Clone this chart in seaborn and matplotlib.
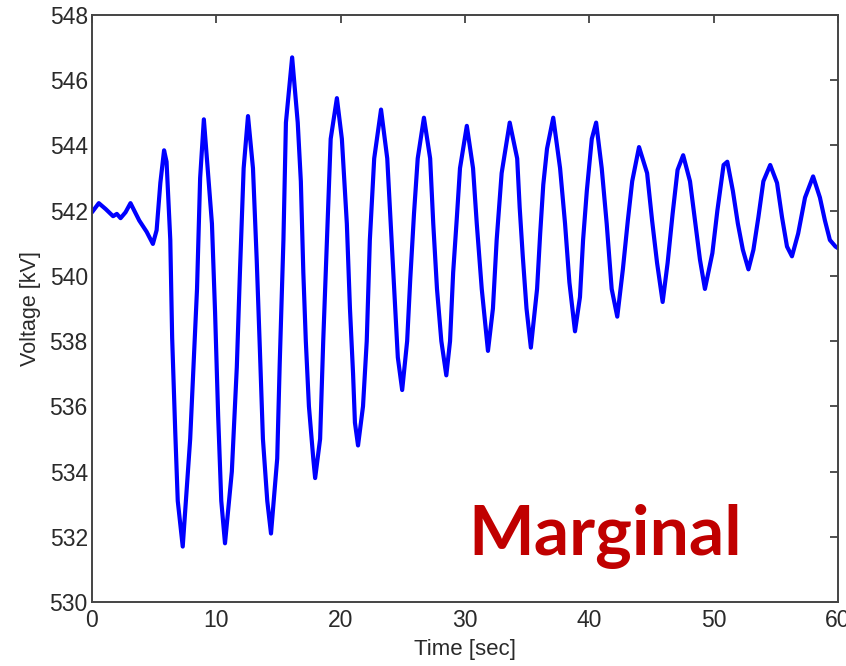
import matplotlib
matplotlib.use("Agg")
import matplotlib.pyplot as plt
import seaborn as sns
import pandas as pd

time_s = [0.0, 0.55, 1.1, 1.7, 2.0, 2.3, 2.7, 3.1, 3.8, 4.4, 4.9, 5.2, 5.5, 5.8, 6.0,
          6.3, 6.45, 6.7, 6.9, 7.3, 7.9, 8.45, 8.7, 9.0, 9.65, 9.9, 10.15, 10.4, 10.7,
          11.25, 11.65, 11.9, 12.2, 12.55, 12.95, 13.25, 13.5, 13.75, 14.1, 14.4, 14.9,
          15.1, 15.4, 15.6, 16.1, 16.55, 16.8, 17.0, 17.2, 17.45, 17.8, 17.95, 18.35,
          18.6, 18.9, 19.2, 19.7, 20.1, 20.5, 20.75, 21.0, 21.15, 21.4, 21.8, 22.1,
          22.35, 22.7, 23.25, 23.75, 24.1, 24.4, 24.6, 24.95, 25.35, 25.6, 25.9, 26.2,
          26.7, 27.2, 27.45, 27.75, 28.1, 28.5, 28.8, 29.05, 29.35, 29.6, 30.15, 30.65,
          30.95, 31.35, 31.85, 32.25, 32.55, 32.95, 33.6, 34.2, 34.4, 34.65, 34.95, 35.3,
          35.8, 36.05, 36.3, 36.6, 37.1, 37.65, 38.05, 38.4, 38.85, 39.25, 39.5, 39.8,
          40.2, 40.55, 41.0, 41.4, 41.8, 42.25, 42.7, 43.1, 43.45, 44.0, 44.65, 45.05,
          45.45, 45.9, 46.3, 46.7, 47.1, 47.55, 48.1, 48.5, 48.9, 49.3, 49.9, 50.3, 50.8,
          51.1, 51.55, 51.95, 52.35, 52.8, 53.2, 53.6, 54.0, 54.55, 55.1, 55.5, 55.9,
          56.3, 56.8, 57.35, 58.0, 58.55, 58.95, 59.35, 59.8, 60.0]
voltage_kv = [541.95, 542.23, 542.05, 541.83, 541.9, 541.77, 541.95, 542.23, 541.7, 541.35,
              540.98, 541.4, 542.85, 543.85, 543.5, 541.1, 538.1, 535.2, 533.1, 531.7,
              535.0, 539.6, 543.0, 544.8, 541.6, 538.9, 535.7, 533.1, 531.8, 534.0, 537.2,
              540.1, 543.3, 544.9, 543.3, 540.5, 537.8, 535.0, 533.1, 532.1, 534.4, 537.3,
              541.1, 544.7, 546.7, 544.7, 542.9, 540.1, 538.0, 536.0, 534.4, 533.8, 535.0,
              538.0, 541.1, 544.2, 545.45, 544.2, 541.6, 539.0, 537.0, 535.5, 534.8, 536.0,
              538.0, 541.1, 543.6, 545.1, 543.6, 541.1, 539.0, 537.5, 536.5, 538.0, 539.9,
              541.9, 543.6, 544.85, 543.6, 541.6, 539.6, 538.0, 536.95, 538.0, 540.1,
              541.8, 543.3, 544.6, 543.3, 541.6, 539.6, 537.7, 539.0, 541.1, 543.15, 544.7,
              543.6, 542.1, 540.6, 539.0, 537.8, 539.6, 541.3, 542.8, 543.9, 544.85, 543.3,
              541.6, 539.8, 538.3, 539.35, 541.1, 542.6, 544.2, 544.7, 543.3, 541.6, 539.6,
              538.75, 540.2, 541.7, 542.9, 543.95, 543.15, 541.7, 540.4, 539.2, 540.4,
              541.9, 543.25, 543.7, 542.9, 541.7, 540.5, 539.6, 540.7, 542.0, 543.4, 543.5,
              542.6, 541.6, 540.8, 540.2, 540.8, 541.8, 542.9, 543.4, 542.85, 541.8, 540.9,
              540.6, 541.3, 542.4, 543.05, 542.4, 541.7, 541.1, 540.9, 540.85]

x_ticks = [0, 10, 20, 30, 40, 50, 60]
y_ticks = [530, 532, 534, 536, 538, 540, 542, 544, 546, 548]
x_label = "Time [sec]"
y_label = "Voltage [kV]"
stamp = "Marginal"

sns.set_style("white")
plt.rcParams['font.family'] = ['Liberation Sans', 'DejaVu Sans']

df = pd.DataFrame({"t": time_s, "v": voltage_kv})

fig = plt.figure(figsize=(8.46, 6.66), dpi=100)
ax = fig.add_axes([0.1087, 0.0961, 0.8818, 0.8814])
sns.lineplot(data=df, x="t", y="v", sort=False, color="#0000FF", linewidth=3.0, ax=ax)

ax.set_xlim(0, 60)
ax.set_ylim(530, 548)
ax.set_xticks(x_ticks)
ax.set_yticks(y_ticks)
ax.set_xticklabels([str(v) for v in x_ticks])
ax.set_yticklabels([str(v) for v in y_ticks])
ax.tick_params(direction="in", length=6, width=1.2, top=True, right=True,
               labelsize=16.5, colors="#333333", labelcolor="#2a2a2a", pad=3)
ax.tick_params(axis="x", pad=5)
for s in ax.spines.values():
    s.set_visible(True)
    s.set_color("#444444")
    s.set_linewidth(1.4)
ax.set_xlabel(x_label, fontsize=16, color="#2a2a2a", labelpad=5)
ax.set_ylabel(y_label, fontsize=15.5, color="#2a2a2a", labelpad=6)

ax.text(0.504, 0.08, stamp, transform=ax.transAxes, fontsize=50, fontweight="bold",
        color="#C00000", family=["Lato", "DejaVu Sans"], ha="left", va="baseline")

fig.savefig("out.png", dpi=100)
